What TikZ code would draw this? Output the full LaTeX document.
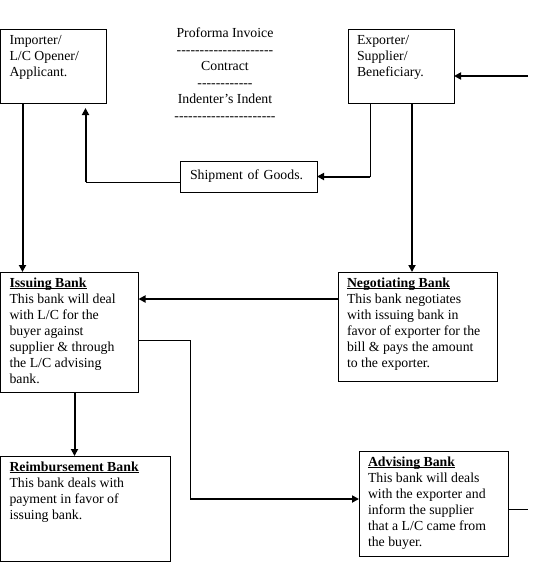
\documentclass[tikz,border=0pt]{standalone}
\usepackage{fontspec}
\setmainfont{Liberation Serif}
\usetikzlibrary{arrows.meta,positioning,calc}

\newcommand{\bankhead}[1]{\underline{\smash{\textbf{#1}}}\vphantom{\textbf{I}}}
\newcommand{\boxlines}[3]{\parbox[c][#2][t]{#1}{\raggedright #3}}
\newcommand{\hyphens}[1]{\foreach \k in {1,...,#1}{\hbox{-}}}

\begin{document}
\begin{tikzpicture}[x=1pt, y=-1pt,
    font=\fontsize{13.8}{16}\selectfont,
    card/.style={draw, line width=1pt, anchor=north west, inner xsep=9pt, inner ysep=6pt, outer sep=0pt},
    heavy/.style={line width=2pt, -{Triangle[length=7pt,width=7pt]}},
    light/.style={line width=1pt}]

    \useasboundingbox (0,0) rectangle (548,562);

    % --- Parties ---
    \node[card] (imp) at (0.5,29) {\boxlines{88pt}{62pt}{Importer/\\L/C Opener/\\Applicant.}};
    \node[card] (exp) at (348,29) {\boxlines{88pt}{62pt}{Exporter/\\Supplier/\\Beneficiary.}};

    % Documents
    \node[anchor=north, inner sep=0pt, align=center, font=\fontsize{13.8}{16.5}\selectfont] (docs) at (225,28)
        {Proforma Invoice\\\hyphens{21}\\Contract\\\hyphens{12}\\Indenter’s Indent\\\hyphens{22}};

    \node[card, inner xsep=10pt, inner ysep=0pt, text width=117pt, minimum height=31pt, align=left] (ship) at (180,161) {Shipment of Goods.};

    % --- Banks ---
    \node[card] (iss) at (0.5,272) {\boxlines{120pt}{108pt}{\bankhead{Issuing Bank}\\This bank will deal\\with L/C for the\\buyer against\\supplier \& through\\the L/C advising\\bank.}};
    \node[card] (neg) at (338,272) {\boxlines{141pt}{97pt}{\bankhead{Negotiating Bank}\\This bank negotiates\\with issuing bank in\\favor of exporter for the\\bill \& pays the amount\\to the exporter.}};
    \node[card] (reimb) at (0.5,456) {\boxlines{152pt}{93pt}{\bankhead{Reimbursement Bank}\\This bank deals with\\payment in favor of\\issuing bank.}};
    \node[card] (adv) at (359,451) {\boxlines{131pt}{93pt}{\bankhead{Advising Bank}\\This bank will deals\\with the exporter and\\inform the supplier\\that a L/C came from\\the buyer.}};

    % --- Connectors ---
    \coordinate (inA) at (528,76);
    \coordinate (bendS) at (85.5,182);
    \coordinate (bendE) at (370,176.5);
    \coordinate (bendI) at (190,499);
    \coordinate (outA) at (528,509);

    \draw[heavy] ([xshift=22pt]imp.south west) -- ([xshift=22pt]iss.north west);
    \draw[light] ([yshift=-5.5pt]ship.west) -- (bendS);
    \draw[heavy] (bendS) -- ([xshift=85pt,yshift=-5pt]imp.south west);
    \draw[light] (exp.south west -| bendE) -- (bendE);
    \draw[heavy] (bendE) -- (ship.east);
    \draw[heavy] ([xshift=64pt]exp.south west) -- ([xshift=74pt]neg.north west);
    \draw[heavy] (inA) -- (inA -| exp.east);
    \draw[heavy] ([yshift=-27pt]neg.north west) -- ([yshift=-27pt]iss.north east);
    \draw[light] ([yshift=-68pt]iss.north east) -| (bendI);
    \draw[heavy] (bendI) -- (bendI -| adv.west);
    \draw[heavy] ([xshift=74pt]iss.south west) -- ([xshift=74pt]reimb.north west);
    \draw[light] (outA -| adv.east) -- (outA);

\end{tikzpicture}
\end{document}
